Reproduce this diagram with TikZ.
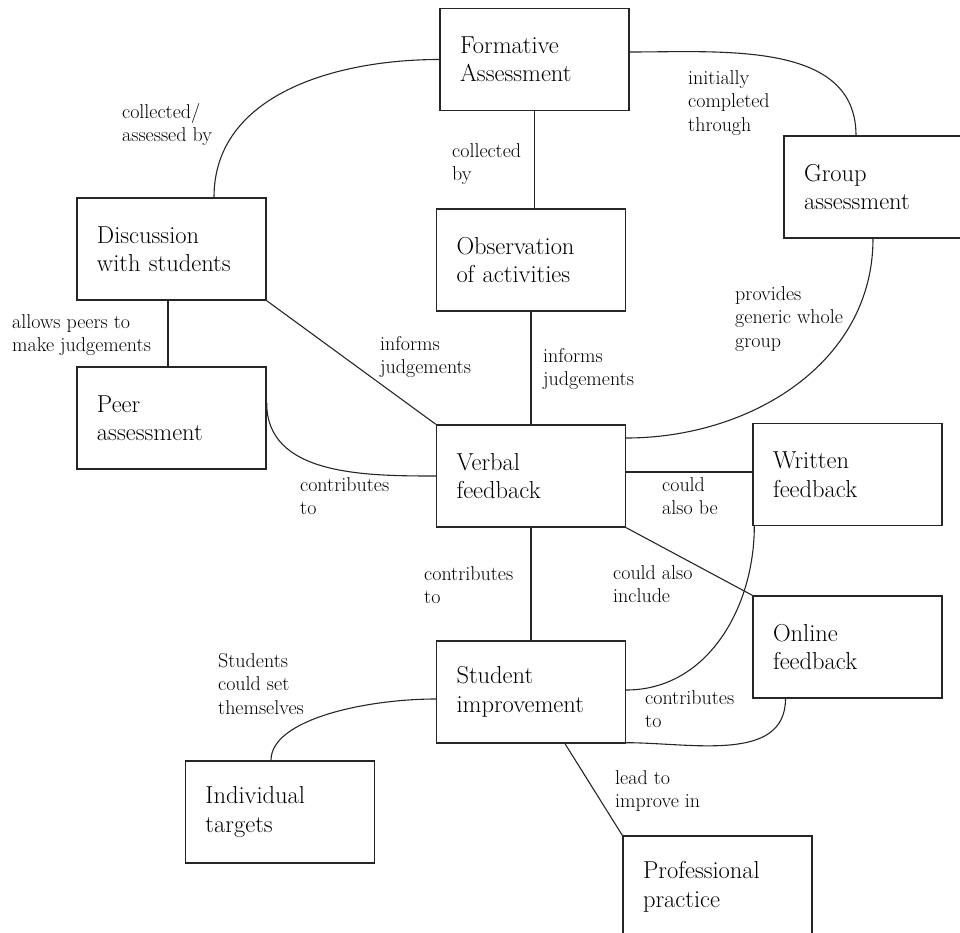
\documentclass[tikz,border=0pt]{standalone}
\usetikzlibrary{shapes.geometric}
\tikzstyle{block} = [ rectangle, draw=black!85, line width=1.4pt, minimum width=189pt, minimum height=102pt, text width=149pt, inner xsep=20pt, align=left, font=\fontsize{24.5}{28.5}\selectfont]
\tikzstyle{note} = [ anchor=north west, inner sep=0pt, align=left, font=\fontsize{20}{23.5}\selectfont]
\tikzstyle{line} = [ draw=black!85, line width=1.1pt]

\begin{document}
\begin{tikzpicture}[node distance=216pt, auto]
  \useasboundingbox (-534.5pt,59.5pt) rectangle (425.5pt,-873.5pt);

  \node [block]  (form)  {Formative\\Assessment};
  \node [block, below of=form, xshift=-3.5pt, yshift=15.5pt]  (obs) {Observation\\of activities};
  \node [block, below of=obs]  (verbal) {Verbal\\feedback};
  \node [block, below of=verbal]  (student) {Student\\improvement};

  \node [block, left of=obs, xshift=-143.5pt, yshift=11pt]  (disc) {Discussion\\with students};
  \node [block, below of=disc, yshift=47pt]  (peer) {Peer\\assessment};
  \node [block, right of=form, xshift=128pt, yshift=-127.5pt]  (group) {Group\\assessment};

  \node [block, right of=verbal, xshift=100.5pt, yshift=1.5pt]  (written) {Written\\feedback};
  \node [block, below of=written, yshift=43.5pt]  (online) {Online\\feedback};

  \node [block, left of=student, xshift=-35pt, yshift=-120pt]  (indiv) {Individual\\targets};
  \node [block, below of=student, xshift=186.5pt, yshift=21pt]  (prof) {Professional\\practice};

  \node [note] (l_collass) at (-412.5pt,-43.5pt) {collected/\\assessed by};
  \node [note] (l_collby) at (-82.5pt,-83.5pt) {collected\\by};
  \node [note] (l_init) at (153.5pt,-10.5pt) {initially\\completed\\through};
  \node [note] (l_prov) at (200.5pt,-226.5pt) {provides\\generic whole\\group};
  \node [note] (l_allow) at (-522.5pt,-254.5pt) {allows peers to\\make judgements};
  \node [note] (l_inf_disc) at (-154.5pt,-276.5pt) {informs\\judgements};
  \node [note] (l_inf_obs) at (8.5pt,-288.5pt) {informs\\judgements};
  \node [note] (l_contr_peer) at (-234.5pt,-417.5pt) {contributes\\to};
  \node [note] (l_could_be) at (127.5pt,-417.5pt) {could\\also be};
  \node [note] (l_contr_verbal) at (-110.5pt,-506.5pt) {contributes\\to};
  \node [note] (l_could_inc) at (78.5pt,-505.5pt) {could also\\include};
  \node [note] (l_set) at (-316.5pt,-593.5pt) {Students\\could set\\themselves};
  \node [note] (l_contr_online) at (110.5pt,-630.5pt) {contributes\\to};
  \node [note] (l_lead) at (80.5pt,-710.5pt) {lead to\\improve in};

  \path [line] (form.west) to[out=180, in=90] ([xshift=42.5pt]disc.north);
  \path [line] (form.south) -- (form.south |- obs.north);
  \path [line] ([yshift=7.5pt]form.east) to[out=0, in=90] ([xshift=-22.5pt]group.north);
  \path [line] ([xshift=-5.5pt]group.south) to[out=-90, in=0] ([yshift=38pt]verbal.east);

  \path [line] ([xshift=-3.5pt]disc.south) -- ([xshift=-3.5pt]disc.south |- peer.north);
  \path [line] (disc.south east) -- (verbal.north west);
  \path [line] (obs.south) -- (verbal.north);
  \path [line] ([yshift=15pt]peer.east) to[out=-90, in=180] (verbal.west);

  \path [line] ([yshift=4pt]verbal.east) -- ([yshift=4pt]verbal.east -| written.west);
  \path [line] (verbal.south east) -- (online.north west);
  \path [line] (verbal.south) -- (student.north);

  \path [line] ([xshift=2pt]written.south west) to[out=-90, in=0] ([yshift=2pt]student.east);
  \path [line] ([xshift=-62pt]online.south) to[out=-90, in=0] ([yshift=1pt]student.south east);
  \path [line] ([yshift=-7pt]student.west) to[out=180, in=90, in looseness=0.6] ([xshift=-9pt]indiv.north);
  \path [line] ([xshift=34pt]student.south) -- (prof.north west);
\end{tikzpicture}
\end{document}
